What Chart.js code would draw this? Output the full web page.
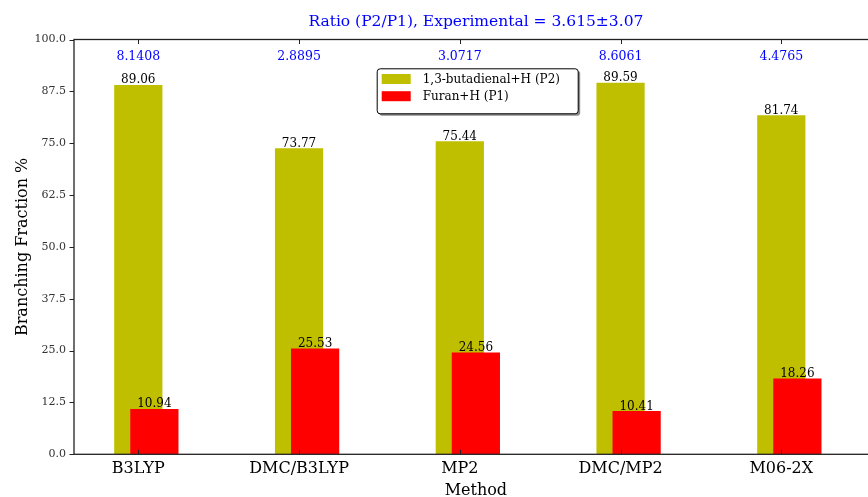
<!DOCTYPE html>
<html>
<head>
<meta charset="utf-8">
<script src="https://cdn.jsdelivr.net/npm/chart.js@4/dist/chart.umd.min.js"></script>
<style>
  html, body { margin: 0; padding: 0; background: #fff; overflow: hidden; }
  #wrap { width: 868px; height: 497px; overflow: hidden; position: relative; }
  canvas { display: block; }
</style>
</head>
<body>
<div id="wrap"><canvas id="c" width="900" height="505"></canvas></div>
<script>
// Branching fractions (%) per method
const methods = ['B3LYP', 'DMC/B3LYP', 'MP2', 'DMC/MP2', 'M06-2X'];
const butadienalP2 = [89.06, 73.77, 75.44, 89.59, 81.74];
const furanP1 = [10.94, 25.53, 24.56, 10.41, 18.26];
// P2/P1 ratio written above each method
const ratioLabels = ['8.1408', '2.8895', '3.0717', '8.6061', '4.4765'];
const ratioLabelY = 95;
const yTickValues = [0, 12.5, 25, 37.5, 50, 62.5, 75, 87.5, 100];

const SERIF = "'DejaVu Serif', 'Liberation Serif', serif";
const OLIVE = '#bfbf00';
const RED = '#ff0000';
const methodTicks = s => { s.ticks = methods.map((m, i) => ({ value: i })); };

// Frame with inward ticks, bar value labels and ratio labels
const decorations = {
  id: 'decorations',
  afterDatasetsDraw(chart) {
    const { ctx, chartArea: a, scales: { x, y } } = chart;
    ctx.save();
    // spines
    ctx.strokeStyle = '#222';
    ctx.lineWidth = 1.3;
    ctx.strokeRect(a.left, a.top, a.right - a.left, a.bottom - a.top);
    // ticks
    ctx.beginPath();
    x.ticks.forEach(t => {
      const px = Math.round(x.getPixelForValue(t.value)) + 0.5;
      ctx.moveTo(px, a.bottom); ctx.lineTo(px, a.bottom - 4.5);
      ctx.moveTo(px, a.top); ctx.lineTo(px, a.top + 4.5);
    });
    y.ticks.forEach(t => {
      const py = Math.round(y.getPixelForValue(t.value)) + 0.5;
      ctx.moveTo(a.left - 4.5, py); ctx.lineTo(a.left, py);
    });
    ctx.lineWidth = 1;
    ctx.stroke();

    // value labels above each bar
    ctx.fillStyle = '#000';
    ctx.font = '12px ' + SERIF;
    ctx.textAlign = 'center';
    ctx.textBaseline = 'alphabetic';
    chart.data.datasets.forEach((ds, di) => {
      const meta = chart.getDatasetMeta(di);
      meta.data.forEach((bar, i) => {
        ctx.fillText(ds.data[i].y.toFixed(2), bar.x, bar.y - 1.6);
      });
    });

    // ratio labels near the top
    ctx.fillStyle = '#0000ff';
    ctx.font = '12.5px ' + SERIF;
    ratioLabels.forEach((r, i) => {
      ctx.fillText(r, x.getPixelForValue(i), y.getPixelForValue(ratioLabelY));
    });
    ctx.restore();
  },
  afterDraw(chart) {
    // legend box inside the plot
    const { ctx, chartArea: a } = chart;
    const left = a.left + 302.7, top = a.top + 28.8, w = 201, h = 45;
    ctx.save();
    ctx.fillStyle = 'rgba(0,0,0,0.45)';
    ctx.beginPath();
    ctx.roundRect(left + 2.5, top + 2.5, w, h, 3);
    ctx.fill();
    ctx.fillStyle = '#fff';
    ctx.strokeStyle = '#000';
    ctx.lineWidth = 1;
    ctx.beginPath();
    ctx.roundRect(left + 0.5, top + 0.5, w, h, 3);
    ctx.fill();
    ctx.stroke();
    const items = [chart.data.datasets[0], chart.data.datasets[1]];
    ctx.font = '12px ' + SERIF;
    ctx.textAlign = 'left';
    ctx.textBaseline = 'middle';
    items.forEach((ds, i) => {
      const rowY = top + 10.7 + i * 17.2;
      ctx.fillStyle = ds.backgroundColor;
      ctx.fillRect(left + 5, rowY - 5, 29, 10);
      ctx.fillStyle = '#000';
      ctx.fillText(ds.label, left + 46, rowY + 0.5);
    });
    ctx.restore();
  }
};

new Chart(document.getElementById('c'), {
  type: 'bar',
  data: {
    datasets: [
      {
        label: '1,3-butadienal+H (P2)',
        data: methods.map((m, i) => ({ x: i, y: butadienalP2[i] })),
        backgroundColor: OLIVE,
        xAxisID: 'x',
        order: 1
      },
      {
        label: 'Furan+H (P1)',
        data: methods.map((m, i) => ({ x: i, y: furanP1[i] })),
        backgroundColor: RED,
        xAxisID: 'xShift',
        order: 0
      }
    ]
  },
  options: {
    responsive: false,
    devicePixelRatio: 1,
    animation: false,
    grouped: false,
    categoryPercentage: 1,
    barPercentage: 0.3,
    layout: { padding: { left: 0, right: 22.25, top: 0, bottom: 0 } },
    plugins: {
      legend: { display: false },
      tooltip: { enabled: false }
    },
    scales: {
      x: {
        type: 'linear',
        position: 'bottom',
        offset: false,
        min: -0.4,
        max: 4.6,
        afterBuildTicks: methodTicks,
        afterFit: s => { s.height = 50.7; },
        grid: { display: false, drawTicks: false },
        border: { display: false },
        ticks: {
          autoSkip: false,
          maxRotation: 0,
          padding: 5,
          color: '#000',
          font: { family: SERIF, size: 16 },
          callback: v => methods[v]
        },
        title: {
          display: true,
          text: 'Method',
          color: '#000',
          font: { family: SERIF, size: 16 },
          padding: { top: 0, bottom: 5 }
        }
      },
      xTop: {
        type: 'linear',
        position: 'top',
        offset: false,
        min: -0.4,
        max: 4.6,
        afterBuildTicks: methodTicks,
        afterFit: s => { s.height = 39.5; },
        grid: { display: false, drawTicks: false },
        border: { display: false },
        ticks: { display: false },
        title: {
          display: true,
          text: 'Ratio (P2/P1), Experimental = 3.615\u00b13.07',
          color: '#0000ff',
          font: { family: SERIF, size: 15.5 },
          padding: { top: 13, bottom: 0 }
        }
      },
      xShift: {
        type: 'linear',
        display: false,
        offset: false,
        min: -0.5,
        max: 4.5,
        afterBuildTicks: methodTicks
      },
      y: {
        min: 0,
        max: 100,
        afterBuildTicks: s => { s.ticks = yTickValues.map(v => ({ value: v })); },
        afterFit: s => { s.width = 74; },
        grid: { display: false, drawTicks: false },
        border: { display: false },
        ticks: {
          padding: 8,
          color: '#333',
          font: { family: SERIF, size: 11 },
          callback: v => Number(v).toFixed(1)
        },
        title: {
          display: true,
          text: 'Branching Fraction %',
          color: '#000',
          font: { family: SERIF, size: 16 },
          padding: { top: 13.4, bottom: 0 }
        }
      }
    }
  },
  plugins: [decorations]
});
</script>
</body>
</html>
